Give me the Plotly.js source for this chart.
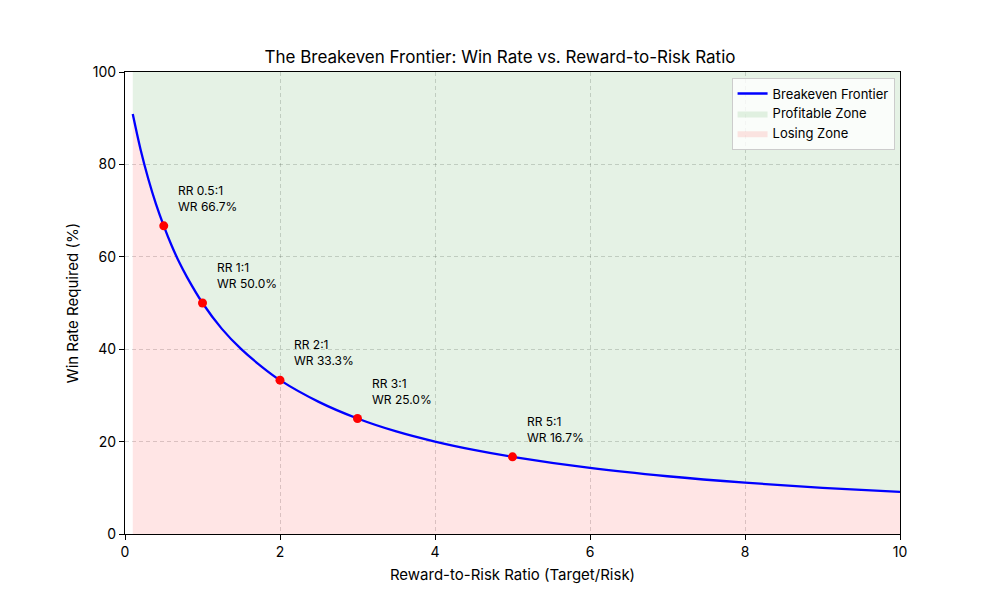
<!DOCTYPE html>
<html><head><meta charset="utf-8">
<script src="https://cdn.plot.ly/plotly-3.0.1.min.js"></script>
<style>html,body{margin:0;padding:0;background:#fff}#chart{width:1000px;height:600px}</style>
</head><body><div id="chart"></div>
<script>
const rrValues = [0.1, 0.2, 0.3, 0.4, 0.5, 0.6, 0.7, 0.8, 1.0, 1.25, 1.5, 1.75, 2.0, 2.5, 3.0, 3.5, 4.0, 4.5, 5.0, 6.0, 7.0, 8.0, 9.0, 10.0];
const winRates = [90.9, 83.3, 76.9, 71.4, 66.7, 62.5, 58.8, 55.6, 50.0, 44.4, 40.0, 36.4, 33.3, 28.6, 25.0, 22.2, 20.0, 18.2, 16.7, 14.3, 12.5, 11.1, 10.0, 9.1];
const topLine = [100,100,100,100,100,100,100,100,100,100,100,100,100,100,100,100,100,100,100,100,100,100,100,100];
const keyRR = [0.5, 1, 2, 3, 5];
const keyWR = [66.7, 50.0, 33.3, 25.0, 16.7];
const keyLabels = ["RR 0.5:1<br>WR 66.7%", "RR 1:1<br>WR 50.0%", "RR 2:1<br>WR 33.3%", "RR 3:1<br>WR 25.0%", "RR 5:1<br>WR 16.7%"];

const font = "Inter, Roboto, 'DejaVu Sans', sans-serif";
const traces = [
  {x: rrValues, y: topLine, mode: 'lines', line: {width: 0, shape: 'spline'}, showlegend: false, hoverinfo: 'skip'},
  {x: rrValues, y: winRates, mode: 'lines', line: {width: 0, shape: 'spline'}, fill: 'tonexty', fillcolor: 'rgba(0,128,0,0.1)', name: 'Profitable Zone', legendrank: 2},
  {x: rrValues, y: winRates, mode: 'lines', line: {width: 0, shape: 'spline'}, fill: 'tozeroy', fillcolor: 'rgba(255,0,0,0.1)', name: 'Losing Zone', legendrank: 3},
  {x: rrValues, y: winRates, mode: 'lines', line: {color: '#0000ff', width: 2.3, shape: 'spline'}, name: 'Breakeven Frontier', legendrank: 1},
  {x: keyRR, y: keyWR, mode: 'markers', marker: {color: '#ff0000', size: 9}, showlegend: false}
];
const annotations = keyRR.map((x, i) => ({
  x: x, y: keyWR[i], text: keyLabels[i], showarrow: false, xanchor: 'left', yanchor: 'bottom',
  align: 'left', xshift: 12, yshift: 10, font: {size: 12, color: '#000', family: font}
}));
const layout = {
  width: 1000, height: 600,
  margin: {l: 125, r: 100, t: 72, b: 66},
  paper_bgcolor: '#fff', plot_bgcolor: '#fff',
  font: {family: font, color: '#000'},
  title: {text: 'The Breakeven Frontier: Win Rate vs. Reward-to-Risk Ratio', x: 0.5, xanchor: 'center', y: 0.905, yanchor: 'middle', font: {size: 17, family: font}},
  xaxis: {range: [0, 10], dtick: 2, tick0: 0, showgrid: true, gridcolor: 'rgba(0,0,0,0.16)', griddash: '4px,3px', gridwidth: 1,
    showline: true, linecolor: '#000', linewidth: 1.1, mirror: true, ticks: 'outside', ticklen: 5, tickcolor: '#000',
    zeroline: false, tickfont: {size: 14}, title: {text: 'Reward-to-Risk Ratio (Target/Risk)', font: {size: 15}, standoff: 10}},
  yaxis: {range: [0, 100], dtick: 20, tick0: 0, showgrid: true, gridcolor: 'rgba(0,0,0,0.16)', griddash: '4px,3px', gridwidth: 1,
    showline: true, linecolor: '#000', linewidth: 1.1, mirror: true, ticks: 'outside', ticklen: 5, tickcolor: '#000',
    zeroline: false, tickfont: {size: 14}, title: {text: 'Win Rate Required (%)', font: {size: 15}, standoff: 10}},
  legend: {x: 0.993, y: 0.988, xanchor: 'right', yanchor: 'top', bgcolor: 'rgba(255,255,255,0.8)', bordercolor: '#cccccc', borderwidth: 1,
    font: {size: 13}, traceorder: 'normal', tracegroupgap: 0},
  annotations: annotations,
  showlegend: true
};
Plotly.newPlot('chart', traces, layout, {displayModeBar: false, staticPlot: true});
</script></body></html>
